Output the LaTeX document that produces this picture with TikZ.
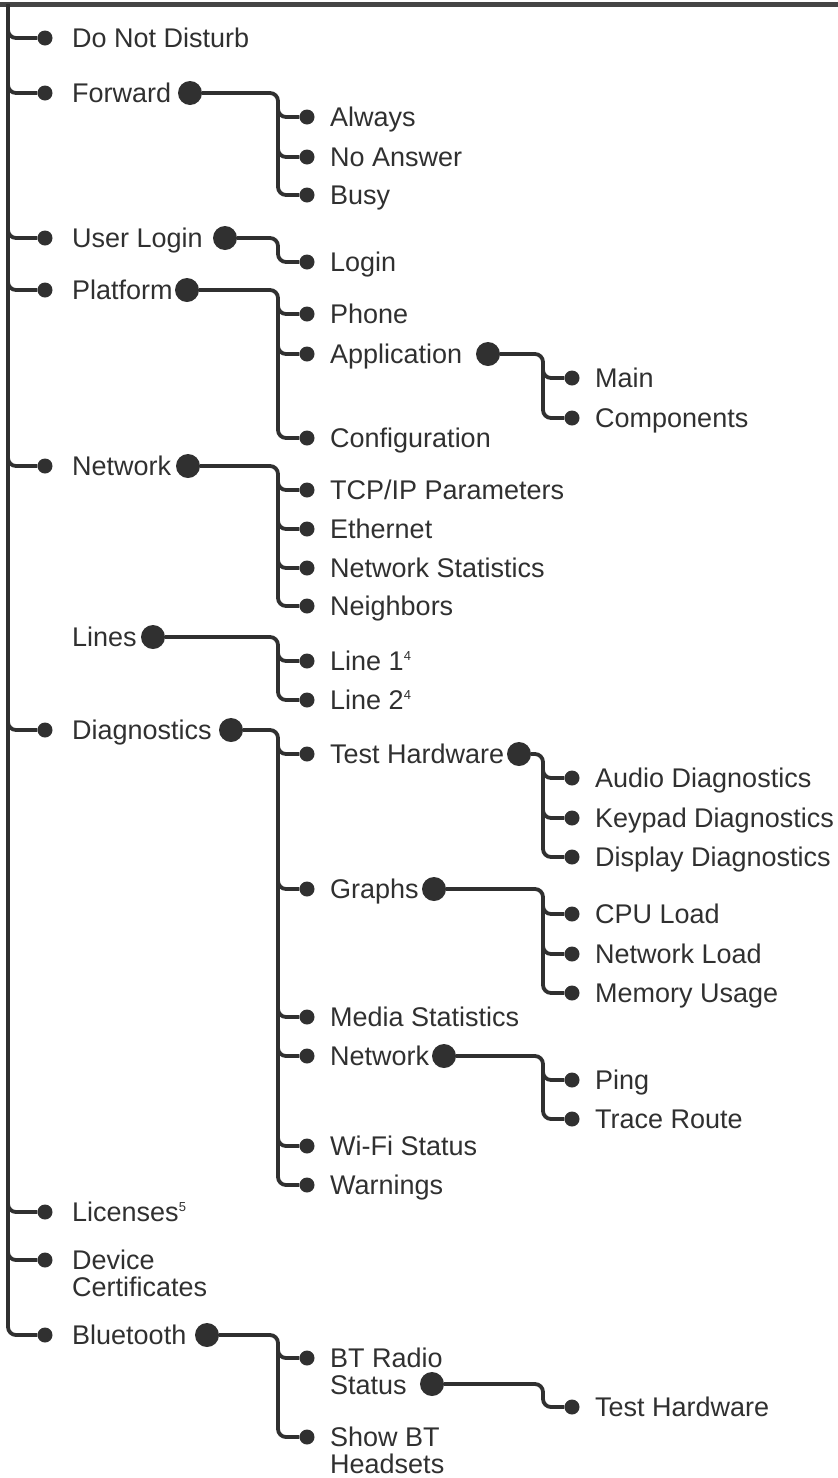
\documentclass[tikz,border=0pt]{standalone}
\usepackage{fontspec}
\setmainfont{Liberation Sans}
\usepackage{tikz}
\usetikzlibrary{positioning, calc}
\definecolor{menuink}{HTML}{303030}

\tikzset{
  branch/.style={draw=menuink, line width=3.8pt, rounded corners=8pt},
  topbar/.style={draw=menuink!90, line width=5pt},
  leaf/.style={circle, fill=menuink, inner sep=0pt, minimum size=15pt},
  hub/.style={circle, fill=menuink, inner sep=0pt, minimum size=24pt},
  entry/.style={anchor=west, inner sep=0pt, text=menuink, text height=19.3pt,
                text depth=0pt, font=\fontsize{27}{27}\selectfont},
}
\newcommand{\supnum}[1]{\raisebox{10pt}{\fontsize{13}{13}\selectfont #1}}
\newcommand{\twolines}[2]{\parbox[t]{6cm}{#1\\#2}}

\begin{document}
\begin{tikzpicture}[x=1pt, y=-1pt]
\useasboundingbox (0,0) rectangle (838,1478);

% frame of the menu
\coordinate (tl) at (0,4);
\coordinate (tr) at (838,4);
\coordinate (root) at (8,4);
\coordinate (k2) at (278,0);
\coordinate (k3) at (543,0);
\draw[topbar] (tl) -- (tr);

% first level
\node[leaf] (dnd) at (45,38) {};
\node[entry] (dndt) at (72,38) {Do Not Disturb};
\node[leaf] (fwd) at (45,93) {};
\node[entry] (fwdt) at (72,93) {Forward};
\node[hub] (fwdh) at (190,93) {};
\node[leaf] (usr) at (45,238) {};
\node[entry] (usrt) at (72,238) {User Login};
\node[hub] (usrh) at (225,238) {};
\node[leaf] (plt) at (45,290) {};
\node[entry] (pltt) at (72,290) {Platform};
\node[hub] (plth) at (187,290) {};
\node[leaf] (net) at (45,466) {};
\node[entry] (nett) at (72,466) {Network};
\node[hub] (neth) at (188,466) {};
\node[entry] (lint) at (72,637) {Lines};
\node[hub] (linh) at (153,637) {};
\node[leaf] (dia) at (45,730) {};
\node[entry] (diat) at (72,730) {Diagnostics};
\node[hub] (diah) at (231,730) {};
\node[leaf] (lic) at (45,1212) {};
\node[entry] (lict) at (72,1212) {Licenses\supnum{5}};
\node[leaf] (dev) at (45,1260) {};
\node[entry] (devt) at (72,1260) {\twolines{Device}{Certificates}};
\node[leaf] (blu) at (45,1335) {};
\node[entry] (blut) at (72,1335) {Bluetooth};
\node[hub] (bluh) at (207,1335) {};

% second level
\node[leaf] (alw) at (307,117) {};
\node[entry] (alwt) at (330,117) {Always};
\node[leaf] (noa) at (307,157) {};
\node[entry] (noat) at (330,157) {No Answer};
\node[leaf] (bsy) at (307,195) {};
\node[entry] (bsyt) at (330,195) {Busy};
\node[leaf] (lgn) at (307,262) {};
\node[entry] (lgnt) at (330,262) {Login};
\node[leaf] (phn) at (307,314) {};
\node[entry] (phnt) at (330,314) {Phone};
\node[leaf] (app) at (307,354) {};
\node[entry] (appt) at (330,354) {Application};
\node[hub] (apph) at (488,354) {};
\node[leaf] (cfg) at (307,438) {};
\node[entry] (cfgt) at (330,438) {Configuration};
\node[leaf] (tcp) at (307,490) {};
\node[entry] (tcpt) at (330,490) {TCP/IP Parameters};
\node[leaf] (eth) at (307,529) {};
\node[entry] (etht) at (330,529) {Ethernet};
\node[leaf] (nst) at (307,568) {};
\node[entry] (nstt) at (330,568) {Network Statistics};
\node[leaf] (nbr) at (307,606) {};
\node[entry] (nbrt) at (330,606) {Neighbors};
\node[leaf] (ln1) at (307,661) {};
\node[entry] (ln1t) at (330,661) {Line 1\supnum{4}};
\node[leaf] (ln2) at (307,700) {};
\node[entry] (ln2t) at (330,700) {Line 2\supnum{4}};
\node[leaf] (tst) at (307,754) {};
\node[entry] (tstt) at (330,754) {Test Hardware};
\node[hub] (tsth) at (519,754) {};
\node[leaf] (gra) at (307,889) {};
\node[entry] (grat) at (330,889) {Graphs};
\node[hub] (grah) at (434,889) {};
\node[leaf] (med) at (307,1017) {};
\node[entry] (medt) at (330,1017) {Media Statistics};
\node[leaf] (dnt) at (307,1056) {};
\node[entry] (dntt) at (330,1056) {Network};
\node[hub] (dnth) at (444,1056) {};
\node[leaf] (wif) at (307,1146) {};
\node[entry] (wift) at (330,1146) {Wi-Fi Status};
\node[leaf] (wrn) at (307,1185) {};
\node[entry] (wrnt) at (330,1185) {Warnings};
\node[leaf] (btr) at (307,1358) {};
\node[entry] (btrt) at (330,1358) {\twolines{BT Radio}{Status}};
\node[hub] (btrh) at (432,1384) {};
\node[leaf] (shw) at (307,1437) {};
\node[entry] (shwt) at (330,1437) {\twolines{Show BT}{Headsets}};

% third level
\node[leaf] (man) at (572,378) {};
\node[entry] (mant) at (595,378) {Main};
\node[leaf] (cmp) at (572,418) {};
\node[entry] (cmpt) at (595,418) {Components};
\node[leaf] (aud) at (572,778) {};
\node[entry] (audt) at (595,778) {Audio Diagnostics};
\node[leaf] (key) at (572,818) {};
\node[entry] (keyt) at (595,818) {Keypad Diagnostics};
\node[leaf] (dsp) at (572,857) {};
\node[entry] (dspt) at (595,857) {Display Diagnostics};
\node[leaf] (cpu) at (572,914) {};
\node[entry] (cput) at (595,914) {CPU Load};
\node[leaf] (nld) at (572,954) {};
\node[entry] (nldt) at (595,954) {Network Load};
\node[leaf] (mem) at (572,993) {};
\node[entry] (memt) at (595,993) {Memory Usage};
\node[leaf] (png) at (572,1080) {};
\node[entry] (pngt) at (595,1080) {Ping};
\node[leaf] (trc) at (572,1119) {};
\node[entry] (trct) at (595,1119) {Trace Route};
\node[leaf] (bth) at (572,1407) {};
\node[entry] (btht) at (595,1407) {Test Hardware};

% trunk
\draw[branch] (root) |- (blu);
\foreach \c in {dnd,fwd,usr,plt,net,dia,lic,dev}
  \draw[branch] ($(root |- \c)+(0,-10)$) |- (\c);

% second level branches
\draw[branch] (fwdh) -- (fwdh -| k2) |- (bsy);
\draw[branch] (usrh) -- (usrh -| k2) |- (lgn);
\draw[branch] (plth) -- (plth -| k2) |- (cfg);
\draw[branch] (neth) -- (neth -| k2) |- (nbr);
\draw[branch] (linh) -- (linh -| k2) |- (ln2);
\draw[branch] (diah) -- (diah -| k2) |- (wrn);
\draw[branch] (bluh) -- (bluh -| k2) |- (shw);
\foreach \c in {alw,noa,phn,app,tcp,eth,nst,ln1,tst,gra,med,dnt,wif,btr}
  \draw[branch] ($(k2 |- \c)+(0,-10)$) |- (\c);

% third level branches
\draw[branch] (apph) -- (apph -| k3) |- (cmp);
\draw[branch] (tsth) -- (tsth -| k3) |- (dsp);
\draw[branch] (grah) -- (grah -| k3) |- (mem);
\draw[branch] (dnth) -- (dnth -| k3) |- (trc);
\draw[branch] (btrh) -- (btrh -| k3) |- (bth);
\foreach \c in {man,aud,key,cpu,nld,png}
  \draw[branch] ($(k3 |- \c)+(0,-10)$) |- (\c);
\end{tikzpicture}
\end{document}
